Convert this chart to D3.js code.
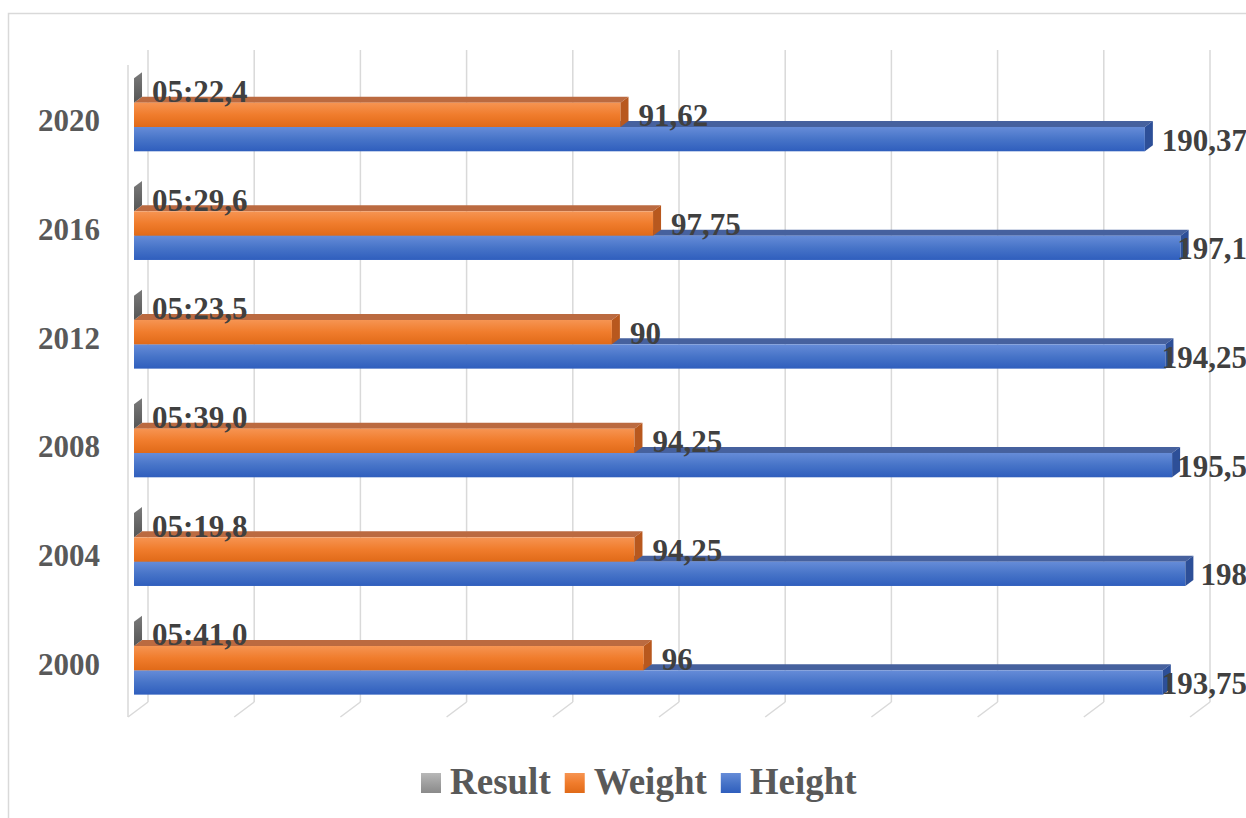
<!DOCTYPE html>
<html>
<head>
<meta charset="utf-8">
<script src="https://cdn.jsdelivr.net/npm/d3@7"></script>
<style>
  html, body { margin: 0; padding: 0; background: #ffffff; }
  svg { display: block; }
</style>
</head>
<body>
<svg id="chart" width="1246" height="818"></svg>
<script>
// Olympic results by year: race time, average weight and average height
const years = ["2020", "2016", "2012", "2008", "2004", "2000"];
const resultLabels = ["05:22,4", "05:29,6", "05:23,5", "05:39,0", "05:19,8", "05:41,0"];
const weightValues = [91.62, 97.75, 90, 94.25, 94.25, 96];
const heightValues = [190.37, 197.1, 194.25, 195.5, 198, 193.75];
const seriesNames = ["Result", "Weight", "Height"];
const axisTicks = [0, 20, 40, 60, 80, 100, 120, 140, 160, 180, 200];

// time "mm:ss,t" -> fraction of a day (how the spreadsheet stores it)
function timeToDays(s) {
  const [m, rest] = s.split(":");
  const sec = parseFloat(rest.replace(",", "."));
  return (parseInt(m, 10) * 60 + sec) / 86400;
}
const resultValues = resultLabels.map(timeToDays);
const fmt = v => String(v).replace(".", ",");

const svg = d3.select("#chart");
const W = 1246, H = 818;

// chart frame
svg.append("rect")
  .attr("x", 8.5).attr("y", 13.5)
  .attr("width", W + 20).attr("height", H + 20)
  .attr("fill", "#ffffff").attr("stroke", "#d9d9d9").attr("stroke-width", 1.5);

// 3D projection: depth z in [0,1], 0 = front plane, 1 = back wall
const DX = 20, DY = 15;
const x = d3.scaleLinear().domain([0, 200]).range([128, 1190]);
const y = d3.scaleBand().domain(years).range([65, 717]).padding(0);
const sub = d3.scaleBand().domain(seriesNames).range([0, y.bandwidth()])
  .paddingInner(0).paddingOuter(0.735);
const P = (px, py, z) => [px + DX * z, py - DY * z];

const defs = svg.append("defs");
function grad(id, stops) {
  const g = defs.append("linearGradient").attr("id", id)
    .attr("x1", 0).attr("y1", 0).attr("x2", 0).attr("y2", 1);
  stops.forEach(([o, c]) => g.append("stop").attr("offset", o).attr("stop-color", c));
}
grad("gResult", [[0, "#b8b8b8"], [0.5, "#a0a0a0"], [1, "#8a8a8a"]]);
grad("gWeight", [[0, "#f69452"], [0.5, "#f07c2c"], [1, "#e06a18"]]);
grad("gHeight", [[0, "#668cd8"], [0.5, "#4774c8"], [1, "#2f5ebd"]]);
grad("gResultSide", [[0, "#7a7a7a"], [1, "#555555"]]);

const style = {
  Result: { front: "url(#gResult)", top: "#8f8f8f", side: "url(#gResultSide)" },
  Weight: { front: "url(#gWeight)", top: "#bb6a40", side: "#b8581e" },
  Height: { front: "url(#gHeight)", top: "#46619e", side: "#2d4f98" }
};

// gridlines on back wall + floor, and side wall edge
const grid = svg.append("g").attr("stroke", "#d9d9d9").attr("stroke-width", 1.5).attr("fill", "none");
const yTop = 65, yBot = 717;
axisTicks.forEach(t => {
  const [bx, by0] = P(x(t), yTop, 1);
  const [, by1] = P(x(t), yBot, 1);
  grid.append("line").attr("x1", bx).attr("x2", bx).attr("y1", by0).attr("y2", by1);
  grid.append("line").attr("x1", bx).attr("y1", by1).attr("x2", x(t)).attr("y2", yBot);
});
grid.append("line").attr("x1", x(0)).attr("x2", x(0)).attr("y1", yTop).attr("y2", yBot);

// bars
const zF = 0.3, zB = 0.7;
const data = years.map((yr, i) => ({
  year: yr,
  bars: [
    { s: "Height", v: heightValues[i], label: fmt(heightValues[i]) },
    { s: "Weight", v: weightValues[i], label: fmt(weightValues[i]) },
    { s: "Result", v: resultValues[i], label: resultLabels[i] }
  ]
}));

const poly = pts => "M" + pts.map(p => p.join(",")).join("L") + "Z";
const barsG = svg.append("g");
data.forEach(d => {
  d.bars.forEach(b => {
    const y0 = y(d.year) + sub(b.s), y1 = y0 + sub.bandwidth();
    const x0 = x(0), x1 = x(b.v);
    const st = style[b.s];
    const g = barsG.append("g");
    // top face
    g.append("path").attr("fill", st.top)
      .attr("d", poly([P(x0, y0, zF), P(x1, y0, zF), P(x1, y0, zB), P(x0, y0, zB)]));
    // front face
    const [fx0, fy0] = P(x0, y0, zF), [fx1, fy1] = P(x1, y1, zF);
    g.append("rect").attr("x", fx0).attr("y", fy0)
      .attr("width", Math.max(0, fx1 - fx0)).attr("height", fy1 - fy0).attr("fill", st.front);
    // end face
    g.append("path").attr("fill", st.side)
      .attr("d", poly([P(x1, y0, zF), P(x1, y0, zB), P(x1, y1, zB), P(x1, y1, zF)]));
    b.frontEnd = fx1;
    b.midY = (fy0 + fy1) / 2;
  });
});

// data labels
const FONT = "'Liberation Serif', 'Times New Roman', serif";
const labG = svg.append("g").attr("font-family", FONT).attr("font-weight", "bold")
  .attr("font-size", 31).attr("fill", "#404040");
data.forEach(d => {
  d.bars.slice().reverse().forEach(b => {
    const t = labG.append("text").attr("y", b.midY + 11.5).text(b.label);
    const w = t.node().getComputedTextLength();
    t.attr("x", Math.min(b.frontEnd + 18, W + 1 - w));
  });
});

// category labels
svg.append("g").attr("font-family", FONT).attr("font-weight", "bold")
  .attr("font-size", 31).attr("fill", "#595959").attr("text-anchor", "end")
  .selectAll("text").data(years).join("text")
  .attr("x", 100).attr("y", yr => y(yr) + y.bandwidth() / 2 + 12)
  .text(yr => yr);

// legend
const legendFill = { Result: "url(#gResult)", Weight: "url(#gWeight)", Height: "url(#gHeight)" };
const lg = svg.append("g").attr("font-family", FONT).attr("font-weight", "bold")
  .attr("font-size", 37).attr("fill", "#595959");
let lx = 421;
seriesNames.forEach(s => {
  lg.append("rect").attr("x", lx).attr("y", 773).attr("width", 20).attr("height", 20)
    .attr("fill", legendFill[s]);
  const t = lg.append("text").attr("x", lx + 29).attr("y", 794).text(s);
  lx += 29 + t.node().getComputedTextLength() + 14;
});
</script>
</body>
</html>
